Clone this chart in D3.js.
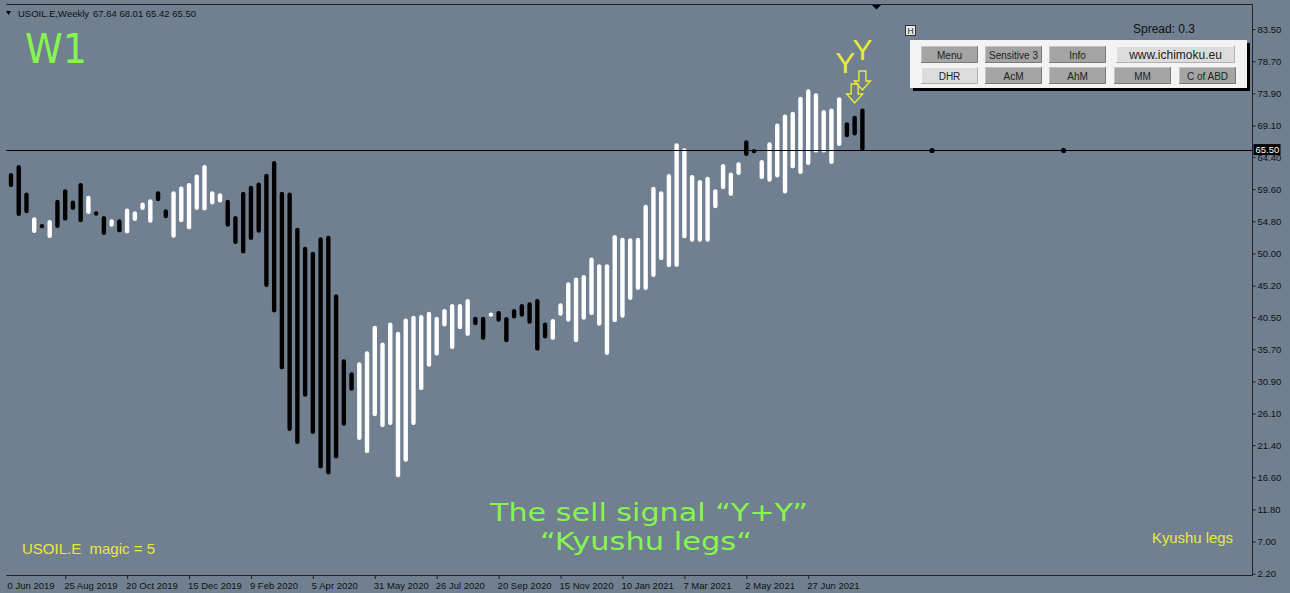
<!DOCTYPE html>
<html><head><meta charset="utf-8">
<script src="https://cdn.jsdelivr.net/npm/d3@7"></script>
<style>
html,body{margin:0;padding:0;background:#708090;overflow:hidden;}
svg{display:block;}
</style></head>
<body>
<svg id="chart" width="1290" height="593"></svg>
<script>
// ---------- data ----------
const symbolTitle = "USOIL.E,Weekly";
const headerOHLC = "67.64 68.01 65.42 65.50";
const firstWeek = "2019-07-07";   // one leg per week
const lastWeek = "2021-08-15";
const legHigh = [62.0,63.2,59.1,55.4,54.4,55.0,58.0,59.6,57.9,60.5,
58.6,56.3,55.6,55.1,55.1,56.7,56.3,57.6,58.1,59.3,
56.6,59.3,60.0,60.5,61.8,63.2,59.3,59.0,58.0,55.6,
59.2,60.1,60.6,61.9,63.8,59.2,59.1,53.85,51.0,50.25,
52.4,52.65,43.9,34.2,32.25,33.75,35.4,39.2,36.7,39.7,
38.3,40.3,40.7,40.8,41.3,40.55,41.7,42.45,42.45,43.2,
40.55,40.55,41.2,41.4,40.5,41.7,42.45,42.7,43.2,39.7,
40.2,42.55,45.7,46.4,46.8,49.4,48.4,48.4,52.75,52.35,
52.25,52.35,57.25,59.95,59.3,61.85,66.45,65.7,61.7,60.95,
61.45,59.6,63.35,62.1,63.6,66.9,65.6,63.95,66.6,69.4,
70.75,71.15,73.4,74.5,73.9,71.4,71.65,73.3,69.6,70.55,71.65];
const legLow = [59.9,55.6,56.0,53.05,54.2,52.3,53.8,54.9,56.5,54.65,
55.9,56.1,52.75,54.0,53.15,53.0,54.85,56.5,54.6,57.8,
55.25,52.35,54.65,53.6,56.5,56.4,57.3,57.6,54.0,51.4,
50.0,52.0,53.1,45.0,41.2,32.7,23.5,21.55,28.6,23.05,
17.9,17.0,19.4,24.3,29.5,22.15,20.2,25.7,24.05,24.4,
16.6,18.9,24.4,29.6,33.1,34.75,39.1,35.75,38.7,37.7,
39.3,37.1,40.55,39.8,36.75,40.3,40.55,39.5,35.5,37.3,
37.1,40.7,39.8,36.75,40.1,40.8,39.2,34.85,39.75,40.4,
43.05,44.55,44.55,46.5,49.0,47.95,48.0,52.25,51.75,51.75,
51.75,56.75,59.6,58.6,61.7,64.55,65.4,61.1,60.7,61.35,
58.95,62.7,61.85,63.2,65.05,65.05,63.35,66.05,67.35,67.6,65.3];
const legColor = ("BBBWBWBBBB"+"WBBWBWWWWB"+"BWWWWWWWBB"+"BBBBBBBBBB"+"BBBBBWWWWW"+
  "WWWWWWWWWW"+"BBWBBBBBBB"+"WWWWWWWWWW"+"WWWWWWWWWW"+"WWWWWBBWWW"+"WWWWWWWWBBB").split("");
const currentPrice = 65.50;
const futureDots = ["2021-10-17","2022-02-13"];
const signalWeeks = ["2021-08-08","2021-08-15"];
const signalArrowTip = [72.45, 74.4];
const signalLabels = ["Y","Y"];
const priceTicks = [83.50,78.70,73.90,69.10,64.40,59.60,54.80,50.00,45.20,40.50,35.70,30.90,26.10,21.40,16.60,11.80,7.00,2.20];
const dateTicks = ["2019-06-30","2019-08-25","2019-10-20","2019-12-15","2020-02-09","2020-04-05","2020-05-31",
  "2020-07-26","2020-09-20","2020-11-15","2021-01-10","2021-03-07","2021-05-02","2021-06-27"];
const buttonsRow1 = ["Menu","Sensitive 3","Info","www.ichimoku.eu"];
const buttonsRow2 = ["DHR","AcM","AhM","MM","C of ABD"];
const lightButtons = ["www.ichimoku.eu","DHR"];
const spreadText = "Spread: 0.3";
const bigTitle = "W1";
const signalTitle1 = "The sell signal \u201CY+Y\u201D";
const signalTitle2 = "\u201CKyushu legs\u201C";
const magicText = "USOIL.E  magic = 5";
const indicatorName = "Kyushu legs";

// ---------- setup ----------
const W = 1290, H = 593;
const svg = d3.select("#chart");
const BG = "#708090", GREEN = "#86f64e", YELLOW = "#e9e93c", FRAME = "#1c232b";
const parse = d3.utcParse("%Y-%m-%d");
const fmt = d3.utcFormat("%-d %b %Y");

const x = d3.scaleUtc().domain([parse(firstWeek), parse(lastWeek)]).range([11, 862.4]);
const y = d3.scaleLinear().domain([2.2, 83.5]).range([573.7, 29]);
const plotL = 6.5, plotR = 1252.5, plotT = 4.5, plotB = 575.5;

svg.append("rect").attr("width", W).attr("height", H).attr("fill", BG);

svg.append("defs").append("clipPath").attr("id", "clipx")
  .append("rect").attr("x", 7).attr("y", 570).attr("width", 1245).attr("height", 30);

// legs
const legs = legHigh.map((h, i) => ({
  date: d3.utcWeek.offset(parse(firstWeek), i), hi: h, lo: legLow[i], c: legColor[i]
}));
const bw = 4.4;
svg.append("g").selectAll("rect").data(legs).join("rect")
  .attr("x", d => x(d.date) - bw / 2)
  .attr("y", d => y(d.hi))
  .attr("width", bw)
  .attr("height", d => Math.max(bw, y(d.lo) - y(d.hi)))
  .attr("rx", bw / 2)
  .attr("fill", d => d.c === "W" ? "#ffffff" : "#000000");

// current price line
svg.append("line").attr("x1", plotL).attr("x2", plotR)
  .attr("y1", Math.round(y(currentPrice)) + 0.5).attr("y2", Math.round(y(currentPrice)) + 0.5)
  .attr("stroke", "#000").attr("stroke-width", 1);
svg.append("g").selectAll("circle").data(futureDots).join("circle")
  .attr("cx", d => x(parse(d))).attr("cy", Math.round(y(currentPrice)) + 0.5)
  .attr("r", 2.6).attr("fill", "#000");

// signals
const sig = svg.append("g");
signalWeeks.forEach((w, i) => {
  const cx = x(parse(w)), tip = y(signalArrowTip[i]);
  const top = tip - 19;
  const p = `M${cx - 3.5},${top} L${cx + 3.5},${top} L${cx + 3.5},${top + 10} L${cx + 8},${top + 10} L${cx},${tip} L${cx - 8},${top + 10} L${cx - 3.5},${top + 10} Z`;
  sig.append("path").attr("d", p).attr("fill", "none").attr("stroke", YELLOW).attr("stroke-width", 1.4);
  const dx = i === 0 ? -9.5 : 0;
  sig.append("text").attr("x", cx + dx).attr("y", top - 11)
    .attr("text-anchor", "middle").attr("fill", YELLOW)
    .attr("font-family", "Liberation Sans, Arial, sans-serif").attr("font-size", 30)
    .text(signalLabels[i]);
});

// frame
const frame = svg.append("g").attr("stroke", FRAME).attr("stroke-width", 1).attr("fill", "none");
frame.append("path").attr("d", `M${plotL},${plotT} H${plotR} V${plotB} H${plotL}`);
// shift marker
svg.append("path").attr("d", "M872,5 L881,5 L876.5,9.5 Z").attr("fill", "#000");

// right axis
const ya = svg.append("g").attr("transform", `translate(${plotR},0)`)
  .call(d3.axisRight(y).tickValues(priceTicks).tickSize(3).tickPadding(2).tickFormat(d3.format(".2f")));
ya.select(".domain").remove();
ya.selectAll("line").attr("stroke", FRAME);
ya.selectAll("text").attr("fill", "#111").attr("font-family", "Liberation Sans, Arial, sans-serif").attr("font-size", 9.5);

// bottom axis (clipped at the chart's left edge)
const xaWrap = svg.append("g").attr("clip-path", "url(#clipx)");
const xa = xaWrap.append("g").attr("transform", `translate(0,${plotB})`)
  .call(d3.axisBottom(x).tickValues(dateTicks.map(parse)).tickSize(3.5).tickPadding(3).tickFormat(fmt));
xa.select(".domain").remove();
xa.selectAll("line").attr("stroke", FRAME);
xa.selectAll("text").attr("fill", "#111").attr("text-anchor", "start").attr("dx", -1.5)
  .attr("font-family", "Liberation Sans, Arial, sans-serif").attr("font-size", 9.5);

// current price label
const cy = y(currentPrice);
svg.append("rect").attr("x", 1253.5).attr("y", cy - 5.5).attr("width", 27).attr("height", 11).attr("fill", "#000");
svg.append("text").attr("x", 1255.5).attr("y", cy + 3.5).attr("fill", "#fff")
  .attr("font-family", "Liberation Sans, Arial, sans-serif").attr("font-size", 9.5)
  .text(d3.format(".2f")(currentPrice));

// header
svg.append("path").attr("d", "M6,11 L11,11 L8.5,15 Z").attr("fill", "#000");
svg.append("text").attr("x", 18).attr("y", 17).attr("fill", "#111")
  .attr("font-family", "Liberation Sans, Arial, sans-serif").attr("font-size", 9.5).text(symbolTitle);
svg.append("text").attr("x", 93).attr("y", 17).attr("fill", "#111")
  .attr("font-family", "Liberation Sans, Arial, sans-serif").attr("font-size", 9.5).text(headerOHLC);

// big W1
svg.append("text").attr("x", 25).attr("y", 63).attr("fill", GREEN)
  .attr("font-family", "DejaVu Sans, sans-serif").attr("font-size", 41)
  .attr("textLength", 62).attr("lengthAdjust", "spacingAndGlyphs").text(bigTitle);

// centre signal text
svg.append("text").attr("x", 490).attr("y", 521).attr("fill", GREEN)
  .attr("font-family", "DejaVu Sans Condensed, DejaVu Sans, sans-serif").attr("font-size", 24)
  .attr("textLength", 318).attr("lengthAdjust", "spacingAndGlyphs").text(signalTitle1);
svg.append("text").attr("x", 540).attr("y", 550).attr("fill", GREEN)
  .attr("font-family", "DejaVu Sans Condensed, DejaVu Sans, sans-serif").attr("font-size", 24)
  .attr("textLength", 212).attr("lengthAdjust", "spacingAndGlyphs").text(signalTitle2);

// yellow texts
svg.append("text").attr("x", 22).attr("y", 554).attr("fill", YELLOW)
  .attr("font-family", "Liberation Sans Narrow, Liberation Sans, Arial, sans-serif").attr("font-size", 15)
  .attr("textLength", 133).attr("lengthAdjust", "spacingAndGlyphs").attr("xml:space", "preserve").text(magicText);
svg.append("text").attr("x", 1152).attr("y", 543).attr("fill", YELLOW)
  .attr("font-family", "Liberation Sans, Arial, sans-serif").attr("font-size", 14)
  .attr("textLength", 81).attr("lengthAdjust", "spacingAndGlyphs").text(indicatorName);

// panel
const pnl = svg.append("g");
pnl.append("rect").attr("x", 905.5).attr("y", 25.5).attr("width", 10).attr("height", 10)
  .attr("fill", "#e8e8e8").attr("stroke", "#333").attr("stroke-width", 1);
pnl.append("text").attr("x", 910.5).attr("y", 33.5).attr("text-anchor", "middle").attr("fill", "#222")
  .attr("font-family", "Liberation Sans, Arial, sans-serif").attr("font-size", 8.5).text("H");
pnl.append("text").attr("x", 1133).attr("y", 33).attr("fill", "#111")
  .attr("font-family", "Liberation Sans, Arial, sans-serif").attr("font-size", 12).text(spreadText);
pnl.append("rect").attr("x", 913).attr("y", 43).attr("width", 337).attr("height", 48).attr("fill", "#000");
pnl.append("rect").attr("x", 910).attr("y", 40).attr("width", 337).attr("height", 48).attr("fill", "#f3f3f3");
const row1x = [921, 985, 1049, 1116], row1w = [57, 57, 57, 119];
const row2x = [921, 985, 1049, 1114, 1179];
function button(label, bx, by, bwid) {
  const light = lightButtons.includes(label);
  pnl.append("rect").attr("x", bx).attr("y", by).attr("width", bwid).attr("height", 17)
    .attr("fill", light ? "#dcdcdc" : "#a4a4a4");
  pnl.append("path").attr("d", `M${bx + 0.5},${by + 17} V${by + 0.5} H${bx + bwid}`)
    .attr("stroke", light ? "#f6f6f6" : "#c4c4c4").attr("fill", "none");
  pnl.append("path").attr("d", `M${bx + bwid - 0.5},${by} V${by + 16.5} H${bx}`)
    .attr("stroke", light ? "#b0b0b0" : "#7a7a7a").attr("fill", "none");
  pnl.append("text").attr("x", bx + bwid / 2).attr("y", by + 12.5).attr("text-anchor", "middle")
    .attr("fill", "#222").attr("font-family", "Liberation Sans, Arial, sans-serif")
    .attr("font-size", label === "www.ichimoku.eu" ? 12 : 10).text(label);
}
buttonsRow1.forEach((b, i) => button(b, row1x[i], 46, row1w[i]));
buttonsRow2.forEach((b, i) => button(b, row2x[i], 67, 57));
</script>
</body></html>
